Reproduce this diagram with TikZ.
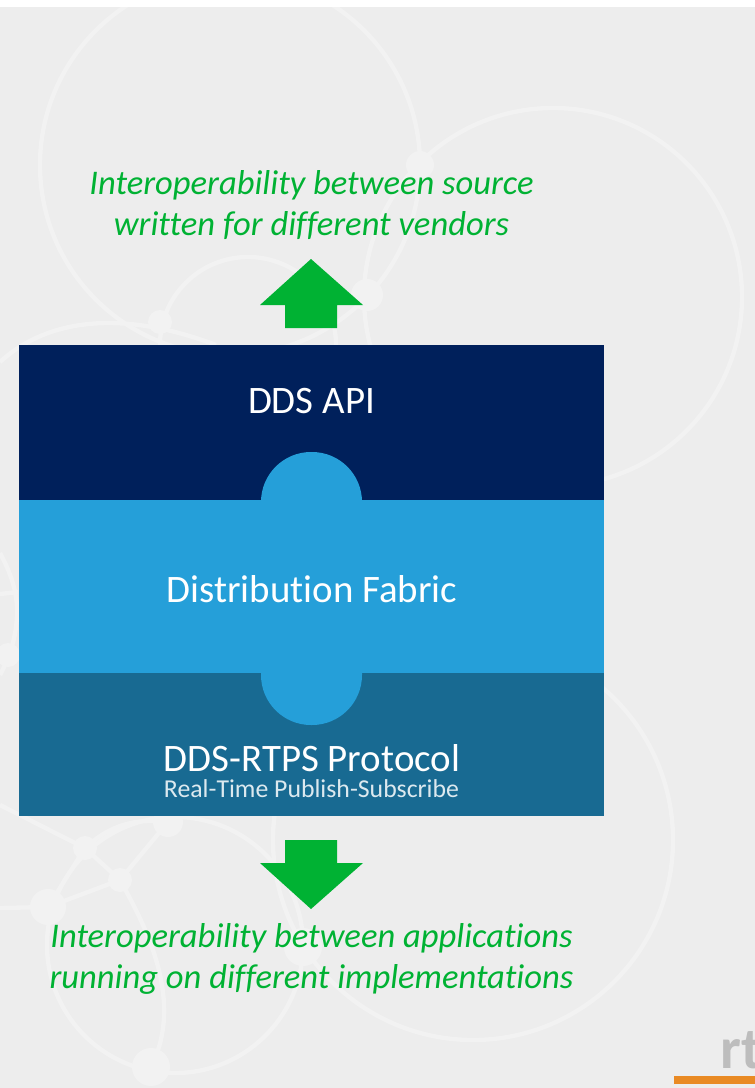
\documentclass[tikz,border=0pt]{standalone}
\usepackage{fontspec}
\setmainfont[Ligatures=NoCommon]{Carlito}
\usepackage{xcolor}
\usepackage{tikz}
\usetikzlibrary{shapes.geometric,positioning,calc}
\definecolor{ddsnavy}{HTML}{00205B}
\definecolor{ddssky}{HTML}{259FD9}
\definecolor{ddsteal}{HTML}{186A92}
\definecolor{ddsgreen}{HTML}{00B233}
\definecolor{slidegray}{HTML}{EDEDED}
\definecolor{ringpale}{HTML}{F2F2F2}
\definecolor{logoorange}{HTML}{E98A24}
\definecolor{logogray}{HTML}{BDBDBD}
\tikzset{
  ring/.style={draw=ringpale,line width=1.3mm},
  hub/.style={fill=ringpale},
  layertext/.style={text=white,font=\fontsize{33.2}{33}\selectfont,inner sep=0pt},
  claim/.style={text=ddsgreen,font=\fontsize{29.5}{35}\itshape\selectfont,align=center,inner sep=0pt},
}
\begin{document}
\begin{tikzpicture}[x=0.03cm,y=-0.03cm]
    % Slide background
    \useasboundingbox (0,0) rectangle (755,1088);
    \fill[white] (0,0) rectangle (755,1088);
    \fill[slidegray] (0,7) rectangle (755,1088);
    \begin{scope}
    \clip (0,7) rectangle (755,1088);
    % Network rings behind the stack
    \foreach \cx/\cy/\r in {230/165/190,553/297/189,248/345/88,473/840/200,175/945/128} {
      \draw[ring] (\cx,\cy) circle (\r);
    }
    \draw[ring] (0,362) .. controls (40,325) and (110,305) .. (216,345);
    \draw[ring] (0,553) .. controls (12,575) and (18,595) .. (17,616) .. controls (16,640) and (8,660) .. (0,675);
    \draw[ring] (0,594) -- (18,592);
    \draw[ring] (0,805) -- (85,848) -- (120,880) -- (168,822);
    \draw[ring] (85,848) -- (48,907) -- (120,880);
    \draw[ring] (85,848) .. controls (110,825) and (135,818) .. (168,822);
    \draw[ring] (0,908) -- (48,907);
    \draw[ring] (120,880) .. controls (145,925) and (185,1000) .. (151,1067);
    % Hubs
    \foreach \hx/\hy/\hr in {420/165/14,367/295/16,160/322/12,8/655/12,85/848/12,168/822/15,120/880/12,48/907/18,303/947/19,151/1067/19} {
      \fill[hub] (\hx,\hy) circle (\hr);
    }
    \end{scope}
    % Stack, bottom to top
    \node[fill=ddsnavy,inner sep=0pt,minimum width=585*0.03cm,minimum height=155*0.03cm] (apilayer) at (311.5,422.5) {};
    \node[fill=ddsteal,inner sep=0pt,minimum width=585*0.03cm,minimum height=143*0.03cm] (rtpslayer) at (311.5,744.5) {};
    \node[fill=ddssky,inner sep=0pt,minimum width=585*0.03cm,minimum height=173*0.03cm] (fabriclayer) at (311.5,586.5) {};
    \node[fill=ddssky,inner sep=0pt,rounded corners=1.5cm,minimum width=101*0.03cm,minimum height=273*0.03cm] (fabricbump) at (311.5,588.5) {};
    % Labels
    \node[layertext] (apitext) at (311.5,401) {DDS API};
    \node[layertext] (fabrictext) at (312,589) {Distribution Fabric};
    \node[layertext] (rtpstext) at (312,758) {DDS-RTPS Protocol};
    \node[text=white!85!ddsteal,font=\fontsize{22}{22}\selectfont,inner sep=0pt] (rtpssub) at (311.5,789) {Real-Time Publish-Subscribe};
    % Arrows
    \fill[ddsgreen] (311,259) -- (363,305) -- (337,305) -- (337,328) -- (285,328) -- (285,305) -- (260,305) -- cycle;
    \fill[ddsgreen] (311,909) -- (363,863) -- (337,863) -- (337,840) -- (285,840) -- (285,863) -- (260,863) -- cycle;
    % Claims
    \node[claim] (sourceclaim) at (311.5,205) {Interoperability between source\\written for different vendors};
    \node[claim] (appclaim) at (311.5,958.5) {Interoperability between applications\\running on different implementations};
    % Logo corner
    \begin{scope}
    \clip (0,0) rectangle (755,1088);
    \node[anchor=base west,text=logogray,font=\fontsize{50}{50}\bfseries\selectfont,inner sep=0pt] (logotext) at (720,1068) {rt};
    \end{scope}
    \fill[logoorange] (674,1076) rectangle (755,1084);
  \end{tikzpicture}
\end{document}
